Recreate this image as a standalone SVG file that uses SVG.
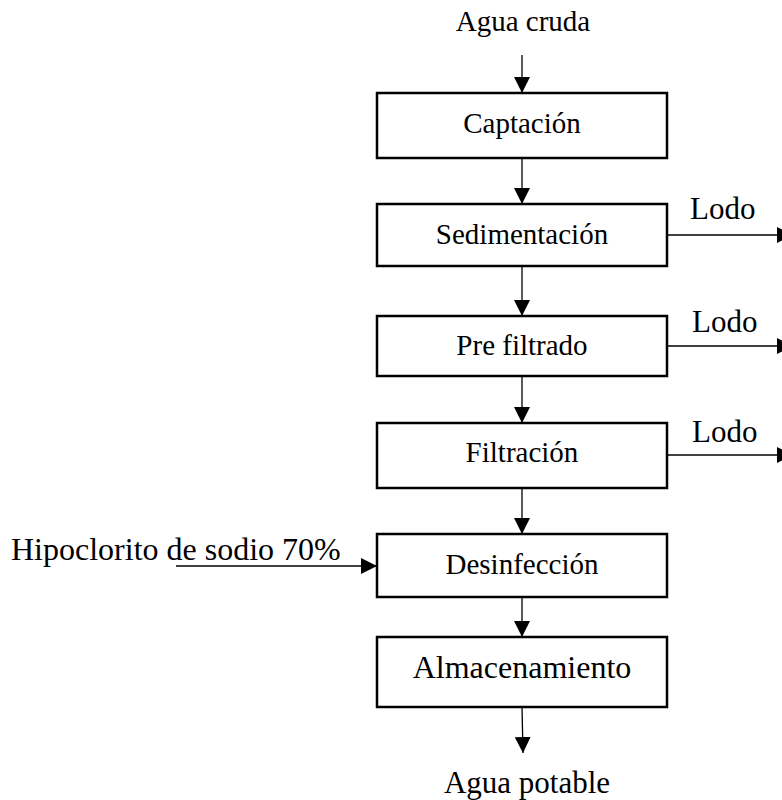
<svg xmlns="http://www.w3.org/2000/svg" width="782" height="800" viewBox="0 0 782 800">
<style>
.box{fill:#fff;stroke:#000;stroke-width:2.5}
.t{font-family:"Liberation Serif","Times New Roman",serif;fill:#000}
.c{stroke:#000;stroke-width:1.3;fill:none}
</style>
<defs>
<marker id="ah" markerUnits="userSpaceOnUse" markerWidth="16" markerHeight="16" viewBox="0 0 16 16" refX="16" refY="8" orient="auto">
<path d="M0,0 L16,8 L0,16 Z" fill="#000"/>
</marker>
</defs>
<rect width="782" height="800" fill="#fff"/>
<g id="connectors">
<line class="c" x1="522" y1="55" x2="522" y2="93" marker-end="url(#ah)"/>
<line class="c" x1="522" y1="158" x2="522" y2="204" marker-end="url(#ah)"/>
<line class="c" x1="522" y1="266" x2="522" y2="316" marker-end="url(#ah)"/>
<line class="c" x1="522" y1="376" x2="522" y2="423" marker-end="url(#ah)"/>
<line class="c" x1="522" y1="488" x2="522" y2="534" marker-end="url(#ah)"/>
<line class="c" x1="522" y1="597" x2="522" y2="637" marker-end="url(#ah)"/>
<line class="c" x1="522" y1="707" x2="523" y2="753" marker-end="url(#ah)"/>
<line class="c" x1="667" y1="235" x2="793" y2="235" marker-end="url(#ah)"/>
<line class="c" x1="667" y1="346" x2="793" y2="346" marker-end="url(#ah)"/>
<line class="c" x1="667" y1="455" x2="793" y2="455" marker-end="url(#ah)"/>
<line class="c" x1="176" y1="566" x2="377" y2="566" marker-end="url(#ah)"/>
<text class="t" x="690" y="219" font-size="31">Lodo</text>
<text class="t" x="692" y="332" font-size="31">Lodo</text>
<text class="t" x="692" y="442" font-size="31">Lodo</text>
</g>
<g id="agua-cruda"><text class="t" x="523" y="31" font-size="29" text-anchor="middle">Agua cruda</text></g>
<g id="captacion"><rect class="box" x="377" y="93" width="290" height="65"/><text class="t" x="522" y="133" font-size="29" text-anchor="middle">Captación</text></g>
<g id="sedimentacion"><rect class="box" x="377" y="204" width="290" height="62"/><text class="t" x="522" y="244" font-size="29" text-anchor="middle">Sedimentación</text></g>
<g id="prefiltrado"><rect class="box" x="377" y="316" width="290" height="60"/><text class="t" x="522" y="355" font-size="29" text-anchor="middle">Pre filtrado</text></g>
<g id="filtracion"><rect class="box" x="377" y="423" width="290" height="65"/><text class="t" x="522" y="462" font-size="29" text-anchor="middle">Filtración</text></g>
<g id="desinfeccion"><rect class="box" x="377" y="534" width="290" height="63"/><text class="t" x="522" y="574" font-size="29" text-anchor="middle">Desinfección</text></g>
<g id="almacenamiento"><rect class="box" x="377" y="637" width="290" height="70"/><text class="t" x="522" y="678" font-size="32" text-anchor="middle">Almacenamiento</text></g>
<g id="hipoclorito"><text class="t" x="11" y="560" font-size="32">Hipoclorito de sodio 70%</text></g>
<g id="agua-potable"><text class="t" x="527" y="793" font-size="31" text-anchor="middle">Agua potable</text></g>
</svg>
